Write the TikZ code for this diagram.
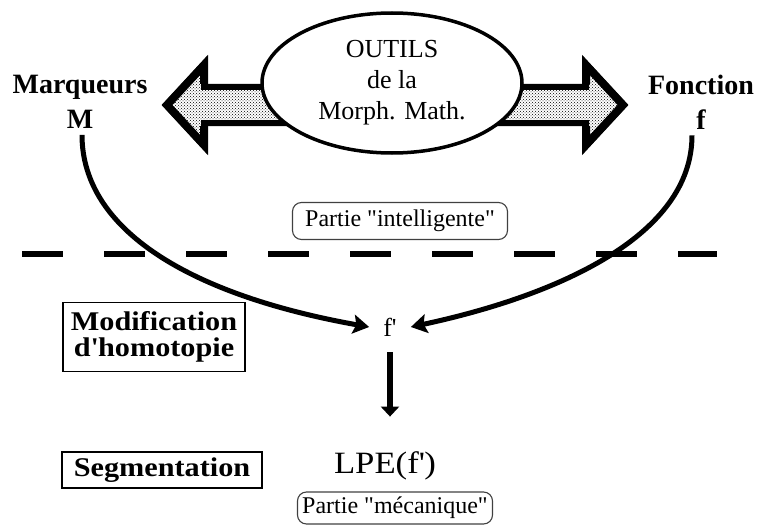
\documentclass[tikz,border=0pt]{standalone}
\usepackage{fontspec}
\setmainfont{Liberation Serif}
\newfontfamily\widefont{Liberation Serif}[FakeStretch=1.12]
\usetikzlibrary{shapes.geometric,arrows.meta,patterns,calc}
\newcommand{\apos}{\textquotesingle}
\newcommand{\dq}{\textquotedbl}

\begin{document}
\begin{tikzpicture}[x=1pt, y=-1pt,
        every node/.style={inner sep=0pt},
        title/.style={font=\fontsize{28}{35}\selectfont\bfseries, align=center},
        plain/.style={font=\fontsize{26}{31}\selectfont, align=center},
        stage/.style={draw, line width=1.2pt, font=\widefont\fontsize{27}{26}\selectfont\bfseries, align=center},
        part/.style={draw=black!75, line width=1.1pt, rounded corners=9pt, font=\fontsize{24}{26}\selectfont,
                     minimum height=37pt, minimum width=215pt},
        fat/.style={line width=6pt, line join=miter, pattern=crosshatch dots},
        head/.style={line width=8pt, line join=miter},
        curvearrow/.style={line width=5pt, -{Stealth[length=16pt,width=19pt,inset=3pt]}},
        downarrow/.style={line width=6pt, -{Triangle[length=10pt,width=18pt]}}
    ]
        \useasboundingbox (0,0) rectangle (761,527);

        \draw[fat] (300,87) -- (204,87) -- (204,64) -- (166,105) -- (204,146) -- (204,123) -- (300,123) -- cycle;
        \draw[head] (204,84) -- (204,65) -- (167,105) -- (204,145) -- (204,126);
        \draw[fat] (484,87) -- (586,87) -- (586,64) -- (624,105) -- (586,146) -- (586,123) -- (484,123) -- cycle;
        \draw[head] (586,84) -- (586,65) -- (623,105) -- (586,145) -- (586,126);

        \node[plain, ellipse, draw, line width=3.5pt, fill=white, minimum width=260pt, minimum height=140pt]
            (outils) at (392,83) {OUTILS\\de la\\Morph. Math.};
        \node[title] (mq) at (80,102) {Marqueurs\\M};
        \node[title] (fn) at (701,102) {Fonction\\f};
        \node[part] (smart) at (400,221) {Partie \dq intelligente\dq};
        \node[stage, minimum width=182pt, minimum height=69pt] (modif) at (154,337) {Modification\\d\apos homotopie};
        \node[stage, minimum width=200pt, minimum height=36pt] (segm) at (162,470) {Segmentation};
        \node[plain, inner xsep=14pt] (fp) at (390,327) {f\apos};
        \node[plain, font=\widefont\fontsize{31}{34}\selectfont] (lpe) at (385,466) {LPE(f\apos)};
        \node[part, minimum width=195pt, minimum height=32pt] (meca) at (395,508) {Partie \dq mécanique\dq};

        \draw[line width=6pt, dash pattern=on 41pt off 41pt] (22,254) -- (717,254);

        \draw[curvearrow] ($(mq.south)+(2,6)$) .. controls (82,230) and (190,295) .. (fp.west);
        \draw[curvearrow] ($(fn.south)+(-9,6)$) .. controls (692,235) and (560,295) .. (fp.east);
        \draw[downarrow, shorten <=16pt, shorten >=35pt] (fp.south) -- (fp.south |- lpe.north);
    \end{tikzpicture}
\end{document}
